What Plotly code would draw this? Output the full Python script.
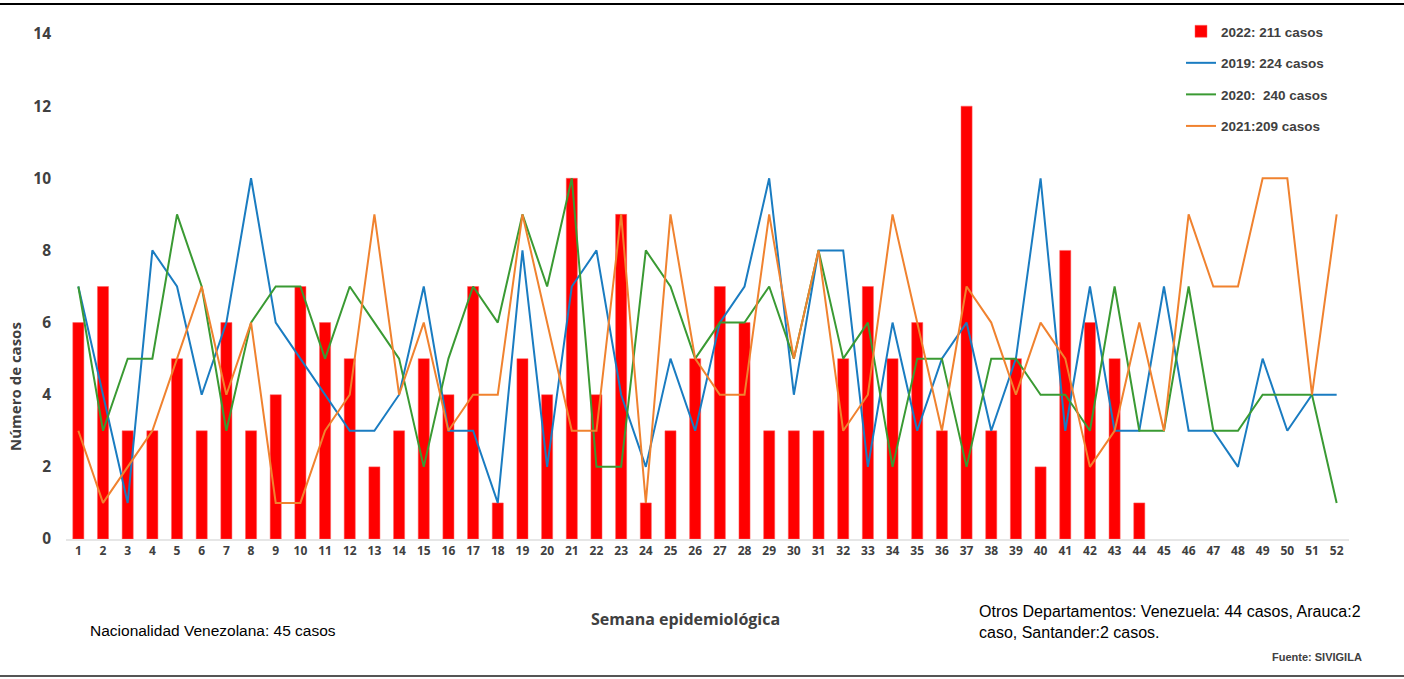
import plotly.graph_objects as go

weeks = list(range(1, 53))
weeks_2022 = list(range(1, 45))

casos_2022 = [6, 7, 3, 3, 5, 3, 6, 3, 4, 7, 6, 5, 2, 3, 5, 4, 7, 1, 5, 4, 10, 4,
              9, 1, 3, 5, 7, 6, 3, 3, 3, 5, 7, 5, 6, 3, 12, 3, 5, 2, 8, 6, 5, 1]
casos_2019 = [7, 4, 1, 8, 7, 4, 6, 10, 6, 5, 4, 3, 3, 4, 7, 3, 3, 1, 8, 2, 7, 8,
              4, 2, 5, 3, 6, 7, 10, 4, 8, 8, 2, 6, 3, 5, 6, 3, 5, 10, 3, 7, 3, 3,
              7, 3, 3, 2, 5, 3, 4, 4]
casos_2020 = [7, 3, 5, 5, 9, 7, 3, 6, 7, 7, 5, 7, 6, 5, 2, 5, 7, 6, 9, 7, 10, 2,
              2, 8, 7, 5, 6, 6, 7, 5, 8, 5, 6, 2, 5, 5, 2, 5, 5, 4, 4, 3, 7, 3,
              3, 7, 3, 3, 4, 4, 4, 1]
casos_2021 = [3, 1, 2, 3, 5, 7, 4, 6, 1, 1, 3, 4, 9, 4, 6, 3, 4, 4, 9, 6, 3, 3,
              9, 1, 9, 5, 4, 4, 9, 5, 8, 3, 4, 9, 6, 3, 7, 6, 4, 6, 5, 2, 3, 6,
              3, 9, 7, 7, 10, 10, 4, 9]

names = ["2022: 211 casos", "2019: 224 casos", "2020:  240 casos", "2021:209 casos"]
y_ticks = [0, 2, 4, 6, 8, 10, 12, 14]

NARROW = "Liberation Sans Narrow, Arial Narrow, Liberation Sans, Arial, sans-serif"
BOLDF = "Open Sans, Noto Sans, sans-serif"

fig = go.Figure()
fig.add_trace(go.Bar(x=weeks_2022, y=casos_2022, name=names[0], width=0.45,
                     marker=dict(color="#FF0000", line=dict(color="#FF6060", width=0.5)),
                     legendgroup="a"))
fig.add_trace(go.Scatter(x=weeks, y=casos_2019, name=names[1], mode="lines",
                         line=dict(color="#1A7CC1", width=2), legendgroup="b"))
fig.add_trace(go.Scatter(x=weeks, y=casos_2020, name=names[2], mode="lines",
                         line=dict(color="#3A9A33", width=2), legendgroup="c"))
fig.add_trace(go.Scatter(x=weeks, y=casos_2021, name=names[3], mode="lines",
                         line=dict(color="#F0822F", width=2), legendgroup="d"))

L, R, T, B = 66, 55, 34, 140
W, H = 1404, 679
pw, ph = W - L - R, H - T - B

def px(x):
    return (x - L) / pw

def py(y):
    return (H - B - y) / ph

fig.update_layout(
    width=W, height=H,
    margin=dict(l=L, r=R, t=T, b=B),
    paper_bgcolor="white", plot_bgcolor="white",
    showlegend=True,
    legend=dict(x=px(1181), y=py(16), xanchor="left", yanchor="top",
                font=dict(family=NARROW, size=13.5, color="#404040", weight="bold"),
                tracegroupgap=11, itemwidth=30, bgcolor="rgba(0,0,0,0)",
                traceorder="grouped"),
    xaxis=dict(range=[0.5, 52.5], tickmode="array", tickvals=weeks,
               ticktext=[str(w) for w in weeks], showgrid=False, zeroline=False,
               showline=True, linecolor="#E6E6E6", linewidth=2, ticks="",
               tickangle=0,
               tickfont=dict(family=BOLDF, size=12, color="#404040", weight="bold")),
    yaxis=dict(range=[0, 14], tickmode="array", tickvals=y_ticks,
               showgrid=False, zeroline=False, showline=False, ticks="",
               ticklabelstandoff=14,
               tickfont=dict(family=BOLDF, size=15.5, color="#404040", weight="bold")),
    bargap=0.5,
)

annotations = [
    dict(text="Número de casos", x=px(15), y=py(387), textangle=-90,
         font=dict(family=BOLDF, size=15, color="#404040", weight="bold")),
    dict(text="Semana epidemiológica", x=px(685), y=py(619),
         font=dict(family=BOLDF, size=16, color="#404040", weight="bold")),
    dict(text="Nacionalidad Venezolana: 45 casos", x=px(88), y=py(630), xanchor="left",
         font=dict(family=NARROW, size=15.5, color="#000000")),
    dict(text="Otros Departamentos: Venezuela: 44 casos, Arauca:2<br>caso, Santander:2 casos.",
         x=px(977), y=py(622), xanchor="left", align="left",
         font=dict(family=NARROW, size=16, color="#000000")),
    dict(text="Fuente: SIVIGILA", x=px(1364), y=py(657), xanchor="right",
         font=dict(family=NARROW, size=11, color="#404040", weight="bold")),
]
for a in annotations:
    a.update(xref="paper", yref="paper", showarrow=False)
    a.setdefault("xanchor", "center")
    a.setdefault("yanchor", "middle")
fig.update_layout(annotations=annotations)

fig.add_shape(type="line", xref="paper", yref="paper", x0=px(0), x1=px(W), y0=py(4), y1=py(4),
              line=dict(color="#000000", width=2))
fig.add_shape(type="line", xref="paper", yref="paper", x0=px(0), x1=px(W), y0=py(676), y1=py(676),
              line=dict(color="#555555", width=2))

fig.write_html("out.html", config={"displayModeBar": False},
               post_script="document.body.style.margin='0';document.body.style.overflow='hidden';")
